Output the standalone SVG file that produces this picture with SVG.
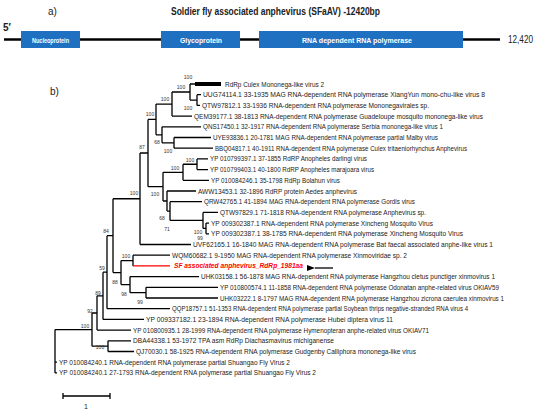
<svg xmlns="http://www.w3.org/2000/svg" width="550" height="412" viewBox="0 0 550 412">
<style>
.t{font-family:"Liberation Sans",Arial,sans-serif;font-size:7px;fill:#222}
.bs{font-family:"Liberation Sans",Arial,sans-serif;font-size:5px;fill:#333;text-anchor:middle}
.box{fill:#1f70c1}
.bt{font-family:"Liberation Sans",Arial,sans-serif;font-weight:bold;font-size:8px;fill:#fff;text-anchor:middle}
.br{fill:none;stroke:#000;stroke-width:1.3}
.hd{font-family:"Liberation Sans",Arial,sans-serif;font-size:10px;fill:#222}
</style>
<defs>
<marker id="ah" markerWidth="8" markerHeight="6" refX="0" refY="3" orient="auto" markerUnits="userSpaceOnUse">
<path d="M8,0 L0,3 L8,6 Z" fill="#000"/>
</marker>
</defs>
<rect width="550" height="412" fill="#fff"/>
<g id="panel-a">
<text class="hd" x="48" y="15">a)</text>
<text class="hd" x="171" y="15" font-weight="bold" textLength="209" lengthAdjust="spacingAndGlyphs">Soldier fly associated anphevirus (SFaAV) -12420bp</text>
<text class="hd" x="3" y="31" font-weight="bold">5′</text>
<line x1="4" y1="39.5" x2="500" y2="39.5" stroke="#000" stroke-width="2.3"/>
<g id="nucleoprotein"><rect class="box" x="21" y="31" width="59" height="17"/><text class="bt" x="50.5" y="42.5" textLength="37" lengthAdjust="spacingAndGlyphs">Nucleoprotein</text></g>
<g id="glycoprotein"><rect class="box" x="161" y="31" width="79" height="17"/><text class="bt" x="201" y="42.5" textLength="42" lengthAdjust="spacingAndGlyphs">Glycoprotein</text></g>
<g id="rdrp"><rect class="box" x="259" y="31" width="204" height="17"/><text class="bt" x="357" y="42.5" textLength="110" lengthAdjust="spacingAndGlyphs">RNA dependent RNA polymerase</text></g>
<text class="hd" x="508" y="43" font-size="9" textLength="25" lengthAdjust="spacingAndGlyphs">12,420</text>
</g>
<g id="panel-b">
<text class="hd" x="50" y="95">b)</text>
<g id="connectors" class="br">
<path d="M55,329.6V372.9M55,329.6H92M55,362.2H57M55,372.9H57"/>
<path d="M92,313V346.15M92,313H97M92,346.15H108"/>
<path d="M108,340.8V351.5M108,340.8H131M108,351.5H134"/>
<path d="M97,295.8V330.1M97,295.8H103M97,330.1H131"/>
<path d="M103,272.2V319.4M103,272.2H107M103,319.4H144"/>
<path d="M107,235.7V308.7M107,235.7H113M107,308.7H170"/>
<path d="M113,198.75V272.6M113,198.75H140M113,272.6H121"/>
<path d="M121,260.55V284.6M121,260.55H133M121,284.6H130"/>
<path d="M133,255.2V265.9M133,255.2H170"/>
<path d="M133,265.9H170" stroke="#f00"/>
<path d="M130,276.6V292.65M130,276.6H199M130,292.65H146"/>
<path d="M146,287.3V298M146,287.3H218M146,298H218"/>
<path d="M140,153V244.5M140,153H148M140,244.5H191"/>
<path d="M148,119.4V186.65M148,119.4H156M148,186.65H163"/>
<path d="M156,104.05V134.8M156,104.05H172M156,134.8H162"/>
<path d="M172,92V116.1M172,92H190M172,116.1H192"/>
<path d="M190,84V100.05M190,84H195M190,100.05H197"/>
<path d="M197,94.7V105.4M197,94.7H201M197,105.4H200"/>
<path d="M162,126.8V142.85M162,126.8H201M162,142.85H174"/>
<path d="M174,137.5V148.2M174,137.5H211M174,148.2H213"/>
<path d="M163,172.3V201M163,172.3H183M163,201H167"/>
<path d="M183,164.25V180.3M183,164.25H197M183,180.3H209"/>
<path d="M197,158.9V169.6M197,158.9H208M197,169.6H208"/>
<path d="M167,191V211.05M167,191H196M167,211.05H170"/>
<path d="M170,201.7V220.4M170,201.7H202M170,220.4H203"/>
<path d="M203,212.4V228.45M203,212.4H218M203,228.45H206"/>
<path d="M206,223.1V233.8M206,223.1H209M206,233.8H209"/>
<rect x="195" y="82" width="26" height="4" fill="#000" stroke="none"/>
<line x1="333" y1="268" x2="315" y2="268" stroke-width="1.3" marker-end="url(#ah)"/>
</g>
<g id="bootstrap">
<text class="bs" x="188" y="79">100</text>
<text class="bs" x="181" y="89">100</text>
<text class="bs" x="188" y="110">100</text>
<text class="bs" x="165" y="101">100</text>
<text class="bs" x="150" y="116">100</text>
<text class="bs" x="157" y="144">68</text>
<text class="bs" x="168" y="153">100</text>
<text class="bs" x="142" y="149">87</text>
<text class="bs" x="190" y="162">100</text>
<text class="bs" x="175" y="170">100</text>
<text class="bs" x="155" y="196">100</text>
<text class="bs" x="134" y="195">100</text>
<text class="bs" x="162" y="220">68</text>
<text class="bs" x="167" y="231">71</text>
<text class="bs" x="198" y="233.5">100</text>
<text class="bs" x="200" y="239.5">99</text>
<text class="bs" x="106" y="233">84</text>
<text class="bs" x="126" y="258">100</text>
<text class="bs" x="102" y="270">59</text>
<text class="bs" x="115" y="284">88</text>
<text class="bs" x="124" y="296">98</text>
<text class="bs" x="98" y="295">89</text>
<text class="bs" x="140" y="304">99</text>
<text class="bs" x="90" y="313">92</text>
<text class="bs" x="85" y="328">100</text>
<text class="bs" x="100" y="349">100</text>
</g>
<g id="leaves">
<text class="t" x="225" y="86.5" textLength="99" lengthAdjust="spacingAndGlyphs">RdRp Culex Mononega-like virus 2</text>
<text class="t" x="203" y="97.2" textLength="282" lengthAdjust="spacingAndGlyphs">UUG74114.1 33-1935 MAG RNA-dependent RNA polymerase XiangYun mono-chu-like virus 8</text>
<text class="t" x="202" y="107.9" textLength="227" lengthAdjust="spacingAndGlyphs">QTW97812.1 33-1936 RNA-dependent RNA polymerase Mononegavirales sp.</text>
<text class="t" x="194" y="118.6" textLength="289" lengthAdjust="spacingAndGlyphs">QEM39177.1 38-1813 RNA-dependent RNA polymerase Guadeloupe mosquito mononega-like virus</text>
<text class="t" x="203" y="129.3" textLength="240" lengthAdjust="spacingAndGlyphs">QNS17450.1 32-1917 RNA-dependent RNA polymerase Serbia mononega-like virus 1</text>
<text class="t" x="213" y="140" textLength="225" lengthAdjust="spacingAndGlyphs">UYE93836.1 20-1781 MAG RNA-dependent RNA polymerase partial Malby virus</text>
<text class="t" x="215" y="150.7" textLength="252" lengthAdjust="spacingAndGlyphs">BBQ04817.1 40-1911 RNA-dependent RNA polymerase Culex tritaeniorhynchus Anphevirus</text>
<text class="t" x="210" y="161.4" textLength="157" lengthAdjust="spacingAndGlyphs">YP 010799397.1 37-1855 RdRP Anopheles darlingi virus</text>
<text class="t" x="210" y="172.1" textLength="164" lengthAdjust="spacingAndGlyphs">YP 010799403.1 40-1800 RdRP Anopheles marajoara virus</text>
<text class="t" x="211" y="182.8" textLength="129" lengthAdjust="spacingAndGlyphs">YP 010084246.1 35-1798 RdRp Bolahun virus</text>
<text class="t" x="198" y="193.5" textLength="159" lengthAdjust="spacingAndGlyphs">AWW13453.1 32-1896 RdRP protein Aedes anphevirus</text>
<text class="t" x="204" y="204.2" textLength="211" lengthAdjust="spacingAndGlyphs">QRW42765.1 41-1894 MAG RNA-dependent RNA polymerase Gordis virus</text>
<text class="t" x="220" y="214.9" textLength="206" lengthAdjust="spacingAndGlyphs">QTW97829.1 71-1818 RNA-dependent RNA polymerase Anphevirus sp.</text>
<text class="t" x="211" y="225.6" textLength="222" lengthAdjust="spacingAndGlyphs">YP 009302387.1 RNA-dependent RNA polymerase Xincheng Mosquito Virus</text>
<text class="t" x="211" y="236.3" textLength="252" lengthAdjust="spacingAndGlyphs">YP 009302387.1 38-1785 RNA-dependent RNA polymerase Xincheng Mosquito Virus</text>
<text class="t" x="193" y="247" textLength="300" lengthAdjust="spacingAndGlyphs">UVF62165.1 16-1840 MAG RNA-dependent RNA polymerase Bat faecal associated anphe-like virus 1</text>
<text class="t" x="172" y="257.7" textLength="235" lengthAdjust="spacingAndGlyphs">WQM60682.1 9-1950 MAG RNA-dependent RNA polymerase Xinmoviridae sp. 2</text>
<text class="t" x="174" y="268.4" textLength="129" lengthAdjust="spacingAndGlyphs" style="fill:#f00;font-weight:bold;font-style:italic">SF associated anphevirus_RdRp_1981aa</text>
<text class="t" x="201" y="279.1" textLength="294" lengthAdjust="spacingAndGlyphs">UHK03158.1 56-1878 MAG RNA-dependent RNA polymerase Hangzhou cletus punctiger xinmovirus 1</text>
<text class="t" x="220" y="289.8" textLength="279" lengthAdjust="spacingAndGlyphs">YP 010800574.1 11-1858 RNA-dependent RNA polymerase Odonatan anphe-related virus OKIAV59</text>
<text class="t" x="220" y="300.5" textLength="284" lengthAdjust="spacingAndGlyphs">UHK03222.1 8-1797 MAG RNA-dependent RNA polymerase Hangzhou zicrona caerulea xinmovirus 1</text>
<text class="t" x="172" y="311.2" textLength="296" lengthAdjust="spacingAndGlyphs">QQP18757.1 51-1353 RNA-dependent RNA polymerase partial Soybean thrips negative-stranded RNA virus 4</text>
<text class="t" x="146" y="321.9" textLength="247" lengthAdjust="spacingAndGlyphs">YP 009337182.1 23-1894 RNA-dependent RNA polymerase Hubei diptera virus 11</text>
<text class="t" x="133" y="332.6" textLength="296" lengthAdjust="spacingAndGlyphs">YP 010800935.1 28-1999 RNA-dependent RNA polymerase Hymenopteran anphe-related virus OKIAV71</text>
<text class="t" x="133" y="343.3" textLength="201" lengthAdjust="spacingAndGlyphs">DBA44338.1 53-1972 TPA asm RdRp Diachasmavirus michiganense</text>
<text class="t" x="136" y="354" textLength="280" lengthAdjust="spacingAndGlyphs">QJ70030.1 58-1925 RNA-dependent RNA polymerase Gudgenby Calliphora mononega-like virus</text>
<text class="t" x="59" y="364.7" textLength="231" lengthAdjust="spacingAndGlyphs">YP 010084240.1 RNA-dependent RNA polymerase partial Shuangao Fly Virus 2</text>
<text class="t" x="59" y="375.4" textLength="257" lengthAdjust="spacingAndGlyphs">YP 010084240.1 27-1793 RNA-dependent RNA polymerase partial Shuangao Fly Virus 2</text>
</g>
<g id="scale-bar">
<path class="br" d="M63,396H110M63,393V399M110,393V399"/>
<text class="t" x="86" y="409" text-anchor="middle">1</text>
</g>
</g>
</svg>
